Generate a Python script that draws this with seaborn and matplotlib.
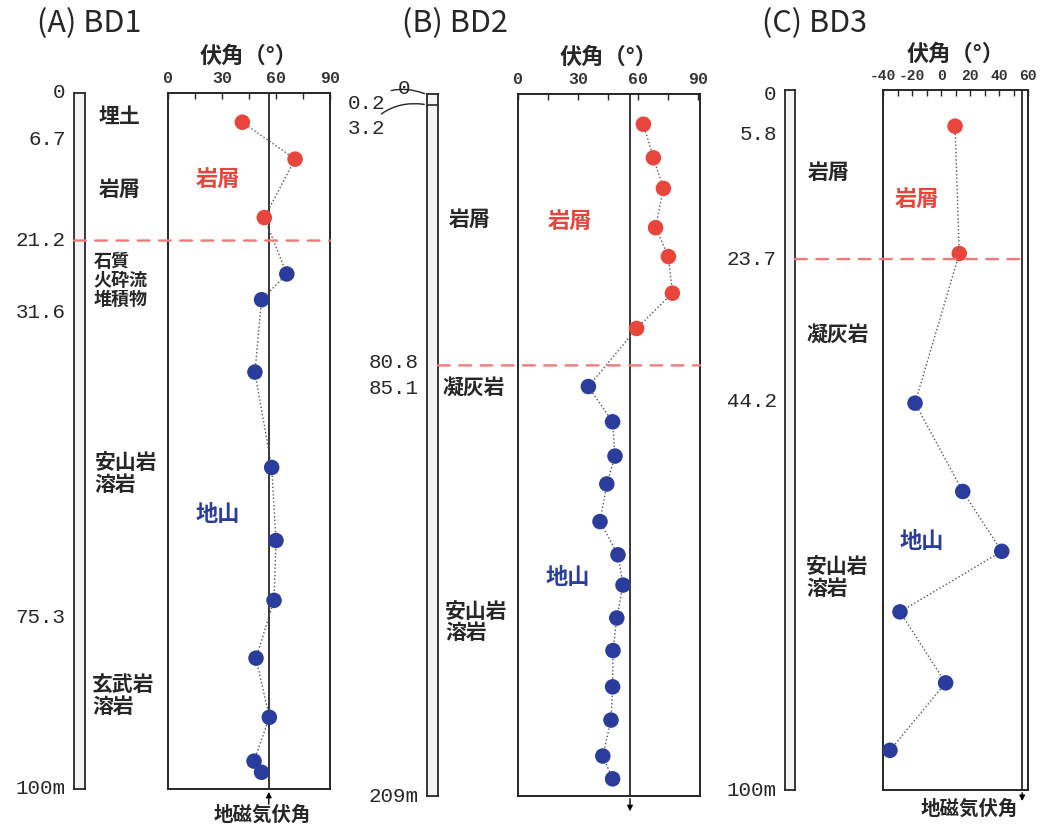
import matplotlib
matplotlib.use('Agg')
import pandas as pd
import matplotlib.pyplot as plt
import seaborn as sns
from matplotlib.patches import ConnectionPatch

# ---- data ----
# BD1
bd1_depth = [4.2, 9.5, 17.9, 26.0, 29.7, 40.1, 53.8, 64.3, 72.9, 81.2, 89.7, 96.0, 97.6]
bd1_incl = [41.3, 70.6, 53.5, 66.0, 52.0, 48.3, 57.6, 60.0, 58.9, 48.9, 56.3, 47.8, 52.0]
bd1_n_debris = 3
bd1_bounds = [0, 6.7, 21.2, 31.6, 75.3, 100]
bd1_bound_labels = ['0', '6.7', '21.2', '31.6', '75.3', '100m']

# BD2
bd2_depth = [9.0, 19.0, 28.1, 39.8, 48.4, 59.3, 69.8,
             87.1, 97.6, 107.8, 116.1, 127.3, 137.2, 146.2, 156.0, 165.7, 176.5, 186.4, 197.1, 203.9]
bd2_incl = [62.7, 67.7, 72.7, 68.8, 75.2, 77.2, 59.3,
            35.2, 47.3, 48.5, 44.4, 41.0, 50.0, 52.5, 49.4, 47.5, 47.3, 46.5, 42.4, 47.3]
bd2_n_debris = 7
bd2_bounds = [80.8, 85.1, 209]
bd2_bound_labels = ['80.8', '85.1', '209m']

# BD3
bd3_depth = [4.6, 22.9, 44.4, 57.1, 65.7, 74.4, 84.6, 94.3]
bd3_incl = [9.7, 12.6, -17.9, 15.0, 41.9, -28.3, 3.2, -35.2]
bd3_n_debris = 2
bd3_bounds = [0, 5.8, 23.7, 44.2, 100]
bd3_bound_labels = ['0', '5.8', '23.7', '44.2', '100m']

geomag_incl = 56  # 地磁気伏角

RED = '#e8453c'
BLUE = '#2b3d9c'
DASH = '#f07a7a'
INK = '#262626'
MONO = 'Liberation Mono'
W, H = 1044, 832


def box(x0, x1, y0, y1):
    return [x0 / W, 1 - y1 / H, (x1 - x0) / W, (y1 - y0) / H]


def make_df(depth, incl, n_top):
    unit = ['岩屑'] * n_top + ['地山'] * (len(depth) - n_top)
    return pd.DataFrame({'depth': depth, 'incl': incl, 'unit': unit})


def data_axes(fig, rect, df, xlim, xticks, minor, ylim, yminor, tick_size=12):
    ax = fig.add_axes(rect)
    ax.axvline(geomag_incl, color='black', lw=1.1, zorder=1)
    sns.lineplot(data=df, x='incl', y='depth', sort=False, estimator=None,
                 color='#555555', lw=1.0, linestyle=':', ax=ax, zorder=2)
    sns.scatterplot(data=df, x='incl', y='depth', hue='unit',
                    palette={'岩屑': RED, '地山': BLUE}, s=125,
                    edgecolor='none', legend=False, ax=ax, zorder=3)
    ax.set_xlim(*xlim)
    ax.set_ylim(*ylim)
    ax.xaxis.tick_top()
    ax.xaxis.set_label_position('top')
    ax.set_xticks(xticks)
    ax.set_xticklabels([str(t) for t in xticks], fontfamily=MONO,
                       fontweight='bold', color='#333333')
    ax.set_xticks(minor, minor=True)
    ax.set_yticks(yminor)
    ax.set_yticklabels([])
    ax.tick_params(axis='x', which='both', direction='in', length=4, width=1,
                   labelsize=tick_size, pad=5)
    ax.tick_params(axis='y', direction='out', length=4, width=1)
    ax.set_xlabel('伏角（°）', fontsize=16, fontweight='bold', labelpad=6)
    ax.set_ylabel('')
    for s in ax.spines.values():
        s.set_color(INK)
        s.set_linewidth(1.4)
    return ax


def column_axes(fig, rect, ylim, ticks, labels, shifts=None):
    ax = fig.add_axes(rect)
    ax.set_facecolor('#f4f4f7')
    ax.set_xlim(0, 1)
    ax.set_ylim(*ylim)
    ax.set_xticks([])
    ax.set_yticks(ticks)
    ax.set_yticklabels([])
    ax.tick_params(axis='y', direction='out', length=5, width=1.2)
    shifts = shifts or [0] * len(ticks)
    for d, txt, dy in zip(ticks, labels, shifts):
        ax.annotate(txt, xy=(0, d), xycoords=('axes fraction', 'data'),
                    xytext=(-6, dy), textcoords='offset points', ha='right',
                    va='center', fontfamily=MONO, fontsize=15, color=INK)
    for s in ax.spines.values():
        s.set_color(INK)
        s.set_linewidth(1.3)
    return ax


def rock_label(ax_col, depth, text, dx, size=15, spacing=1.05):
    ax_col.annotate(text, xy=(1, depth), xycoords=('axes fraction', 'data'),
                    xytext=(dx, 0), textcoords='offset points',
                    ha='left', va='center', fontsize=size, fontweight='bold',
                    color=INK, linespacing=spacing)


def dashed(fig, ax_col, ax, depth, x_start):
    cp = ConnectionPatch(xyA=(x_start, depth), coordsA=ax_col.get_yaxis_transform(),
                         xyB=(1, depth), coordsB=ax.get_yaxis_transform(),
                         color=DASH, lw=1.7, ls=(0, (5, 4)), zorder=5)
    fig.add_artist(cp)


def unit_labels(ax, top, bottom):
    ax.text(top[0], top[1], '岩屑', color=RED, fontsize=16, fontweight='bold',
            style='italic', ha='center', va='center')
    ax.text(bottom[0], bottom[1], '地山', color=BLUE, fontsize=16,
            fontweight='bold', style='italic', ha='center', va='center')


sns.set_style('white')
plt.rcParams['font.family'] = ['Noto Sans CJK JP', 'DejaVu Sans']

fig = plt.figure(figsize=(W / 100, H / 100), dpi=100)

# ---- (A) BD1 ----
df1 = make_df(bd1_depth, bd1_incl, bd1_n_debris)
ax1 = data_axes(fig, box(168, 330, 93, 789), df1, (0, 90), [0, 30, 60, 90],
                [15, 45, 75], (100, 0), list(range(10, 100, 10)))
col1 = column_axes(fig, box(74, 85, 93, 789), (100, 0), bd1_bounds, bd1_bound_labels)
rock_label(col1, 3.3, '埋土', 10)
rock_label(col1, 13.8, '岩屑', 10)
rock_label(col1, 26.9, '石質\n火砕流\n堆積物', 6, size=13, spacing=1.0)
rock_label(col1, 54.7, '安山岩\n溶岩', 7)
rock_label(col1, 86.6, '玄武岩\n溶岩', 5)
dashed(fig, col1, ax1, 21.2, 0)
unit_labels(ax1, (27.8, 12.4), (27.8, 60.5))
ax1.annotate('', xy=(geomag_incl, 100), xytext=(0, -13), textcoords='offset points',
             arrowprops=dict(arrowstyle='-|>', color='black', lw=1, mutation_scale=8))
ax1.annotate('地磁気伏角', xy=(geomag_incl, 100), xytext=(-5, -12),
             textcoords='offset points', ha='center', va='top', fontsize=14,
             fontweight='bold', color=INK)
fig.text(89 / W, 1 - 24 / H, '(A) BD1', ha='center', va='center', fontsize=22,
         color=INK)

# ---- (B) BD2 ----
df2 = make_df(bd2_depth, bd2_incl, bd2_n_debris)
ax2 = data_axes(fig, box(518, 700, 94, 796), df2, (0, 91), [0, 30, 60, 90],
                [15, 45, 75], (209, 0), list(range(25, 209, 25)))
col2 = column_axes(fig, box(427, 438, 94, 796), (209, 0), bd2_bounds,
                   bd2_bound_labels, shifts=[2, -6.5, 0])
col2.axhline(3.2, color=INK, lw=1.2)
for txt, d, off in [('0.2', 0.2, (-30, -6)), ('3.2', 3.2, (-30, -17))]:
    col2.annotate(txt, xy=(0, d), xycoords=('axes fraction', 'data'), xytext=off,
                  textcoords='offset points', ha='right', va='center',
                  fontfamily=MONO, fontsize=15, color=INK,
                  arrowprops=dict(arrowstyle='-', lw=1, color=INK,
                                  connectionstyle='arc3,rad=-0.3'))
col2.annotate('0', xy=(0, 0), xycoords=('axes fraction', 'data'), xytext=(-12, 4),
              textcoords='offset points', ha='right', va='center',
              fontfamily=MONO, fontsize=15, color=INK)
rock_label(col2, 37.5, '岩屑', 8)
rock_label(col2, 87.5, '凝灰岩', 3)
rock_label(col2, 157.2, '安山岩\n溶岩', 5)
dashed(fig, col2, ax2, 80.8, 1)
unit_labels(ax2, (26, 38.1), (25, 144))
ax2.annotate('', xy=(geomag_incl, 209), xytext=(0, -13), textcoords='offset points',
             arrowprops=dict(arrowstyle='<|-', color='black', lw=1, mutation_scale=8))
fig.text(455 / W, 1 - 24 / H, '(B) BD2', ha='center', va='center', fontsize=22,
         color=INK)

# ---- (C) BD3 ----
df3 = make_df(bd3_depth, bd3_incl, bd3_n_debris)
ax3 = data_axes(fig, box(883, 1028, 90, 790), df3, (-40, 60),
                [-40, -20, 0, 20, 40, 60], list(range(-30, 60, 10)),
                (100, -0.6), list(range(10, 100, 10)), tick_size=10.5)
col3 = column_axes(fig, box(785, 795, 90, 790), (100, -0.6), bd3_bounds, bd3_bound_labels)
rock_label(col3, 11.2, '岩屑', 9)
rock_label(col3, 34.7, '凝灰岩', 8)
rock_label(col3, 69.5, '安山岩\n溶岩', 8)
dashed(fig, col3, ax3, 23.7, 1)
unit_labels(ax3, (-16.6, 15.2), (-13, 64.3))
ax3.annotate('', xy=(geomag_incl, 100), xytext=(0, -10), textcoords='offset points',
             arrowprops=dict(arrowstyle='<|-', color='black', lw=1, mutation_scale=8))
ax3.annotate('地磁気伏角', xy=(geomag_incl, 100), xytext=(-38, -7),
             textcoords='offset points', ha='center', va='top', fontsize=14,
             fontweight='bold', color=INK)
fig.text(815 / W, 1 - 24 / H, '(C) BD3', ha='center', va='center', fontsize=22,
         color=INK)

fig.savefig('out.png', dpi=100)
